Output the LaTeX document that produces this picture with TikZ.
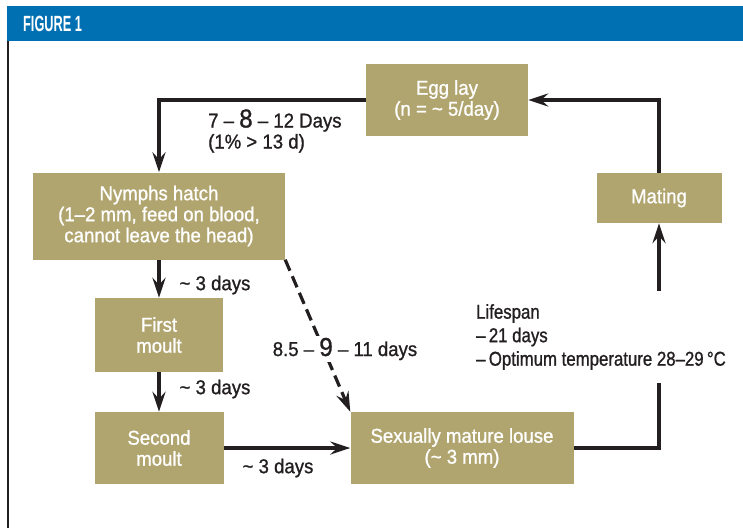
\documentclass[tikz,border=0pt]{standalone}
\usepackage{fontspec}
\setmainfont{Liberation Sans}[FakeStretch=0.93,FakeBold=1]
\newfontfamily\narrowfont{Liberation Sans}[FakeStretch=0.84,FakeBold=1]
\newfontfamily\headfont{Liberation Sans}[FakeStretch=0.58]
\usetikzlibrary{arrows.meta,positioning}
\definecolor{khaki}{RGB}{177,165,111}
\definecolor{headblue}{RGB}{0,112,178}
\definecolor{ink}{RGB}{35,31,32}
\newcommand{\bigday}[1]{{\fontsize{26}{26}\selectfont #1}}

\begin{document}
\begin{tikzpicture}[x=1pt,y=-1pt,
  stage/.style={fill=khaki,text=white,font=\fontsize{20}{21}\selectfont,align=center,inner sep=0pt},
  lbl/.style={text=ink,font=\fontsize{20}{21}\selectfont,align=left,inner sep=2pt},
  flow/.style={draw=ink,line width=3.2pt,-{Stealth[length=20pt,width=13pt,inset=7pt]}}]
\useasboundingbox (0,0) rectangle (743,528);
% header
\fill[headblue] (7,6) rectangle (743,41);
\node[text=white,font=\headfont\bfseries\fontsize{22}{22}\selectfont,anchor=west,inner sep=0pt] (title) at (23,24) {FIGURE 1};
\draw[ink,line width=1.4pt] (8,41) -- (8,528);
% stages
\node[stage,minimum width=162pt,minimum height=72pt] (egg) at (447,100) {Egg lay\\(n = \textasciitilde{} 5/day)};
\node[stage,minimum width=252pt,minimum height=87pt] (nymph) at (159,216) {Nymphs hatch\\(1–2 mm, feed on blood,\\cannot leave the head)};
\node[stage,minimum width=128pt,minimum height=74pt] (first) at (159,335) {First\\moult};
\node[stage,minimum width=129pt,minimum height=72pt] (second) at (159,448) {Second\\moult};
\node[stage,minimum width=223pt,minimum height=72pt] (mature) at (462,448) {Sexually mature louse\\(\textasciitilde{} 3 mm)};
\node[stage,minimum width=125pt,minimum height=50pt] (mating) at (659,198) {Mating};
% connectors
\draw[flow] (egg.west) -| (nymph.north);
\draw[flow] (nymph.south) -- (first.north);
\draw[flow] (first.south) -- (second.north);
\draw[flow] (second.east) -- (mature.west);
\draw[flow,dash pattern=on 12pt off 6pt] (nymph.south east) -- (mature.north west);
\draw[flow] (mature.east) -| (mating.south);
\draw[flow] (mating.north) |- (egg.east);
% labels
\node[lbl,anchor=west] (eggtime) at (206,131) {7 – \bigday{8} – 12 Days\\(1\% > 13 d)};
\node[lbl] (t1) at (215,285) {\textasciitilde{} 3 days};
\node[lbl] (t2) at (215,389) {\textasciitilde{} 3 days};
\node[lbl] (t3) at (278,468) {\textasciitilde{} 3 days};
\node[lbl,fill=white] (direct) at (345,349) {8.5 – \bigday{9} – 11 days};
\node[lbl,fill=white,anchor=west,inner xsep=4pt,inner ysep=13pt,font=\narrowfont\fontsize{20}{23.5}\selectfont] (life) at (472,337) {Lifespan\\–\,21 days\\–\,Optimum temperature 28–29\,°C};
\end{tikzpicture}
\end{document}
